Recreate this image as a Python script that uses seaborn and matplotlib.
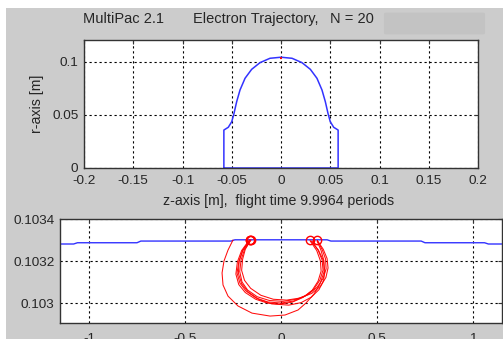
import numpy as np
import pandas as pd
import matplotlib
matplotlib.use("Agg")
import matplotlib.pyplot as plt
from matplotlib.patches import Rectangle, FancyBboxPatch
import seaborn as sns

# ---------------- data ----------------
# cavity contour (top panel), z [m], r [m]
cav_z = [-0.058, -0.058, -0.0535, -0.050, -0.0477, -0.045, -0.0416, -0.0365, -0.0298, -0.0213, -0.0112, 0.0,
         0.0112, 0.0213, 0.0298, 0.0365, 0.0416, 0.045, 0.0477, 0.050, 0.0535, 0.058, 0.058, -0.058]
cav_r = [0.0, 0.0357, 0.0383, 0.0436, 0.0514, 0.0624, 0.0734, 0.0844, 0.0928, 0.0991, 0.1032, 0.1042,
         0.1032, 0.0991, 0.0928, 0.0844, 0.0734, 0.0624, 0.0514, 0.0436, 0.0383, 0.0357, 0.0, 0.0]

# cavity wall near the impact region (bottom panel)
wall_x = [-1.16, -1.08, -1.06, -0.75, -0.73, -0.26, -0.24, 0.24, 0.26, 0.73, 0.75, 1.06, 1.08, 1.16]
wall_y = [0.103281, 0.103281, 0.103287, 0.103287, 0.103295, 0.103295, 0.103301, 0.103301,
          0.103295, 0.103295, 0.103287, 0.103287, 0.103281, 0.103281]

# electron trajectory arcs (bottom panel)
arc1_x = [-0.161, -0.198, -0.219, -0.229, -0.214, -0.182, -0.130, -0.068, 0.000, 0.068, 0.125, 0.172, 0.203, 0.219, 0.214, 0.193, 0.161]
arc1_y = [0.103300, 0.103252, 0.103200, 0.103143, 0.103095, 0.103057, 0.103024, 0.103005, 0.103000, 0.103010, 0.103033, 0.103067, 0.103110, 0.103157, 0.103205, 0.103252, 0.103295]
arc2_x = [-0.156, -0.190, -0.208, -0.215, -0.203, -0.174, -0.124, -0.060, 0.010, 0.080, 0.140, 0.188, 0.220, 0.235, 0.232, 0.214, 0.189]
arc2_y = [0.103300, 0.103255, 0.103205, 0.103150, 0.103100, 0.103062, 0.103030, 0.103012, 0.103008, 0.103018, 0.103040, 0.103075, 0.103118, 0.103163, 0.103210, 0.103255, 0.103298]
arc3_x = [-0.165, -0.205, -0.227, -0.235, -0.220, -0.186, -0.132, -0.072, -0.008, 0.058, 0.115, 0.162, 0.193, 0.209, 0.205, 0.186, 0.151]
arc3_y = [0.103300, 0.103250, 0.103196, 0.103138, 0.103088, 0.103050, 0.103018, 0.103000, 0.102995, 0.103004, 0.103027, 0.103060, 0.103104, 0.103152, 0.103202, 0.103250, 0.103297]
arc4_x = [-0.158, -0.186, -0.200, -0.205, -0.190, -0.158, -0.105, -0.040, 0.030, 0.100, 0.160, 0.206, 0.234, 0.245, 0.240, 0.220, 0.189]
arc4_y = [0.103300, 0.103256, 0.103208, 0.103155, 0.103108, 0.103070, 0.103037, 0.103018, 0.103014, 0.103024, 0.103046, 0.103080, 0.103122, 0.103167, 0.103212, 0.103256, 0.103298]
arc5_x = [-0.162, -0.200, -0.218, -0.222, -0.205, -0.170, -0.115, -0.048, 0.040, 0.105, 0.158, 0.198, 0.222, 0.228, 0.220, 0.195, 0.155]
arc5_y = [0.103300, 0.103250, 0.103198, 0.103142, 0.103092, 0.103052, 0.103017, 0.102996, 0.102990, 0.103002, 0.103028, 0.103064, 0.103108, 0.103156, 0.103204, 0.103252, 0.103296]
arc6_x = [-0.250, -0.276, -0.297, -0.307, -0.302, -0.276, -0.224, -0.151, -0.057, 0.021, 0.089, 0.130, 0.172, 0.203, 0.224, 0.224, 0.208, 0.188]
arc6_y = [0.103300, 0.103252, 0.103200, 0.103143, 0.103086, 0.103033, 0.102986, 0.102952, 0.102938, 0.102943, 0.102967, 0.103000, 0.103043, 0.103090, 0.103148, 0.103200, 0.103252, 0.103295]

# impact points
hit_x = [-0.163, -0.160, -0.158, 0.151, 0.189]
hit_y = [0.103301, 0.103301, 0.103301, 0.103300, 0.103300]

top_xticks = [-0.2, -0.15, -0.1, -0.05, 0, 0.05, 0.1, 0.15, 0.2]
top_xlabels = ["-0.2", "-0.15", "-0.1", "-0.05", "0", "0.05", "0.1", "0.15", "0.2"]
top_yticks = [0, 0.05, 0.1]
top_ylabels = ["0", "0.05", "0.1"]
bot_xticks = [-1, -0.5, 0, 0.5, 1]
bot_xlabels = ["-1", "-0.5", "0", "0.5", "1"]
bot_yticks = [0.103, 0.1032, 0.1034]
bot_ylabels = ["0.103", "0.1032", "0.1034"]

# ---------------- style ----------------
sns.set_style("white")
plt.rcParams['font.family'] = ['Liberation Sans', 'DejaVu Sans']
TXT = "#262626"
BG = "#cccccc"
FS_TICK = 9.7
FS_LAB = 10.2
FS_TITLE = 10.5

W, H = 503, 339
fig = plt.figure(figsize=(W / 100, H / 100), dpi=100)
fig.patch.set_facecolor("white")
fig.patches.append(Rectangle((6 / W, 0), 1, 1 - 8 / H, transform=fig.transFigure,
                             facecolor=BG, edgecolor="none", zorder=-10))
fig.patches.append(FancyBboxPatch((386 / W, 1 - 33 / H), 97 / W, 19 / H,
                                  boxstyle="round,pad=0.004", transform=fig.transFigure,
                                  facecolor="#c3c3c3", edgecolor="none", zorder=-9))

ax1 = fig.add_axes([84 / W, 1 - 168 / H, 394 / W, 128 / H])
ax2 = fig.add_axes([60 / W, 1 - 323 / H, 442 / W, 104 / H])

arcs = pd.DataFrame({
    "x": arc1_x + arc2_x + arc3_x + arc4_x + arc5_x + arc6_x,
    "y": arc1_y + arc2_y + arc3_y + arc4_y + arc5_y + arc6_y,
    "arc": ([1] * len(arc1_x) + [2] * len(arc2_x) + [3] * len(arc3_x) +
            [4] * len(arc4_x) + [5] * len(arc5_x) + [6] * len(arc6_x)),
})

# top panel
sns.lineplot(x=cav_z, y=cav_r, sort=False, estimator=None, color="#3333ff", lw=1.1, ax=ax1)
top_arcs = arcs.assign(x=arcs["x"] * 1e-3)
sns.lineplot(data=top_arcs, x="x", y="y", units="arc", estimator=None, sort=False,
             color="red", lw=0.8, ax=ax1)
ax1.set_xlim(-0.2, 0.2)
ax1.set_ylim(0, 0.1204)

# bottom panel
sns.lineplot(x=wall_x, y=wall_y, sort=False, estimator=None, color="#3333ff", lw=1.0, ax=ax2)
sns.lineplot(data=arcs, x="x", y="y", units="arc", estimator=None, sort=False,
             color="red", lw=0.75, alpha=0.95, ax=ax2)
ax2.plot(hit_x, hit_y, linestyle="none", marker="o", markersize=6,
         markerfacecolor="none", markeredgecolor="red", markeredgewidth=1.0)
ax2.set_xlim(-1.151, 1.151)
ax2.set_ylim(0.102905, 0.1034)

for ax, xt, xl, yt, yl, pad in [(ax1, top_xticks, top_xlabels, top_yticks, top_ylabels, 5),
                                (ax2, bot_xticks, bot_xlabels, bot_yticks, bot_ylabels, 7)]:
    ax.set_facecolor("white")
    ax.set_xticks(xt)
    ax.set_xticklabels(xl)
    ax.set_yticks(yt)
    ax.set_yticklabels(yl)
    ax.set_xlabel("")
    ax.set_ylabel("")
    ax.tick_params(axis="x", direction="in", length=3, width=0.8, colors="#333333",
                   labelcolor=TXT, labelsize=FS_TICK, pad=pad, top=True)
    ax.tick_params(axis="y", direction="in", length=3, width=0.8, colors="#333333",
                   labelcolor=TXT, labelsize=FS_TICK, pad=4, right=True)
    ax.grid(True, color="black", linestyle=(0, (2, 2.5)), linewidth=0.8)
    ax.set_axisbelow(True)
    for s in ax.spines.values():
        s.set_visible(True)
        s.set_color("#333333")
        s.set_linewidth(1.0)
    if ax.get_legend():
        ax.get_legend().remove()

fig.text(83 / W, 1 - 19 / H, "MultiPac 2.1", ha="left", va="center", fontsize=FS_TITLE, color=TXT)
fig.text(193 / W, 1 - 19 / H, "Electron Trajectory,", ha="left", va="center",
         fontsize=FS_TITLE, color=TXT)
fig.text(330 / W, 1 - 19 / H, "N = 20", ha="left", va="center",
         fontsize=FS_TITLE, color=TXT)
fig.text(279 / W, 1 - 201 / H, "z-axis [m],  flight time 9.9964 periods", ha="center",
         va="center", fontsize=FS_LAB, color=TXT)
fig.text(37 / W, 1 - 104 / H, "r-axis [m]", ha="center", va="center", rotation=90,
         fontsize=FS_LAB, color=TXT)

fig.savefig("out.png", dpi=100, facecolor=fig.get_facecolor())
